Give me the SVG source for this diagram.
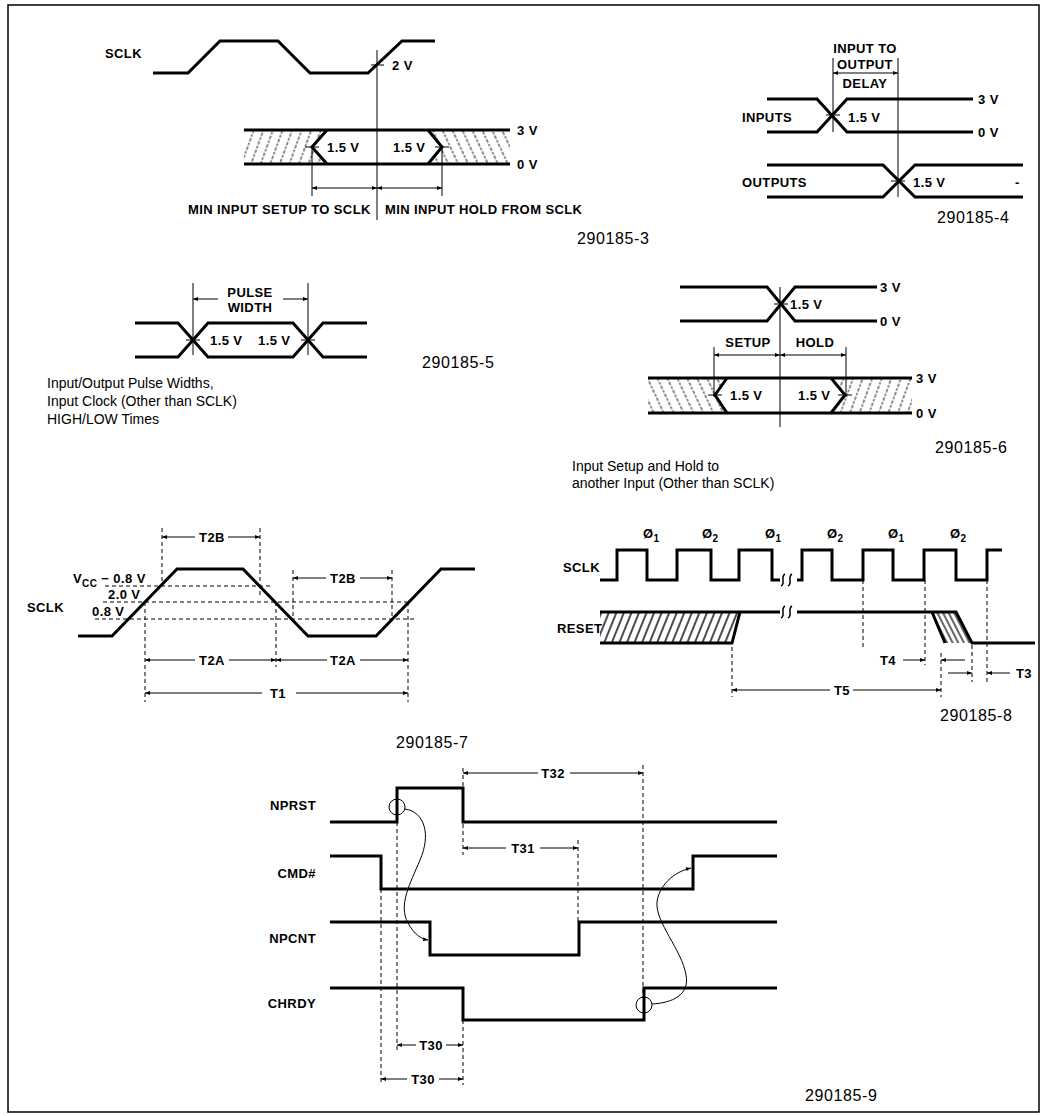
<svg xmlns="http://www.w3.org/2000/svg" width="1043" height="1116" viewBox="0 0 1043 1116">
<defs>
<marker id="ah" viewBox="0 0 10 10" refX="10" refY="5" markerWidth="8" markerHeight="5" markerUnits="userSpaceOnUse" orient="auto-start-reverse"><path d="M0,1 L10,5 L0,9 z" fill="#000"/></marker>
<pattern id="hA" width="9" height="9" patternUnits="userSpaceOnUse" patternTransform="rotate(20)"><line x1="4" y1="0" x2="4" y2="9" stroke="#000" stroke-width="0.9" stroke-dasharray="2.5 1.5"/></pattern>
<pattern id="hB" width="9" height="9" patternUnits="userSpaceOnUse" patternTransform="rotate(-25)"><line x1="4" y1="0" x2="4" y2="9" stroke="#000" stroke-width="0.9" stroke-dasharray="2.5 1.5"/></pattern>
<pattern id="hR" width="7" height="7" patternUnits="userSpaceOnUse" patternTransform="rotate(22)"><line x1="3" y1="0" x2="3" y2="7" stroke="#000" stroke-width="1.4"/></pattern>
<pattern id="hR2" width="5" height="5" patternUnits="userSpaceOnUse" patternTransform="rotate(-27)"><line x1="2" y1="0" x2="2" y2="5" stroke="#000" stroke-width="1.2"/></pattern>
</defs>
<style>
.w{fill:none;stroke:#000;stroke-width:3}
.t{fill:none;stroke:#000;stroke-width:1}
.k{fill:none;stroke:#000;stroke-width:1.5}
.d{fill:none;stroke:#000;stroke-width:1;stroke-dasharray:4 3}
.a{fill:none;stroke:#000;stroke-width:1;marker-end:url(#ah)}
.a2{fill:none;stroke:#000;stroke-width:1;marker-start:url(#ah);marker-end:url(#ah)}
text{font-family:"Liberation Sans",Arial,Helvetica,sans-serif;fill:#000}
.b{font-weight:bold;font-size:13px;letter-spacing:0.4px}
.n{font-size:16px;letter-spacing:0.6px}
.c{font-size:14px}
.m{text-anchor:middle}
.e{text-anchor:end}
</style>
<rect x="8" y="5" width="1031" height="1107" fill="#fff" stroke="#000" stroke-width="1.5"/>

<!-- Figure 290185-3 -->
<g id="fig3">
  <g id="fig3-sclk">
    <text class="b" x="105" y="58">SCLK</text>
    <polyline class="w" points="153,73 188,73 220,41 278,41 310,73 368,73 402,41 435,41"/>
    <line class="t" x1="371" y1="65" x2="384" y2="65"/>
    <text class="b" x="392" y="70">2 V</text>
  </g>
  <g id="fig3-input">
    <polygon points="244,130 327,130 312,147 327,164 244,164" fill="url(#hA)"/>
    <polygon points="428,130 510,130 510,164 428,164 442,147" fill="url(#hB)"/>
    <line class="w" x1="244" y1="130" x2="510" y2="130"/>
    <line class="w" x1="244" y1="164" x2="510" y2="164"/>
    <polyline class="w" points="327,130 312,147 327,164"/>
    <polyline class="w" points="428,130 442,147 428,164"/>
    <line class="t" x1="305" y1="147" x2="319" y2="147"/>
    <line class="t" x1="435" y1="147" x2="449" y2="147"/>
    <text class="b" x="327" y="152">1.5 V</text>
    <text class="b" x="393" y="152">1.5 V</text>
    <text class="b" x="517" y="135">3 V</text>
    <text class="b" x="517" y="169">0 V</text>
  </g>
  <text class="b" x="188" y="214">MIN INPUT SETUP TO SCLK</text>
  <text class="b" x="385" y="214">MIN INPUT HOLD FROM SCLK</text>
  <text class="n" x="577" y="244">290185-3</text>
</g>

<!-- Figure 290185-4 -->
<g id="fig4">
  <text class="b m" x="865" y="53">INPUT TO</text>
  <text class="b m" x="865" y="69">OUTPUT</text>
  <text class="b m" x="865" y="88">DELAY</text>
  <g id="fig4-inputs">
    <text class="b" x="742" y="122">INPUTS</text>
    <polyline class="w" points="767,99 817,99 847,132 973,132"/>
    <polyline class="w" points="767,132 817,132 847,99 973,99"/>
    <line class="t" x1="826" y1="115" x2="840" y2="115"/>
    <text class="b" x="848" y="122">1.5 V</text>
    <text class="b" x="978" y="104">3 V</text>
    <text class="b" x="978" y="137">0 V</text>
  </g>
  <g id="fig4-outputs">
    <text class="b" x="742" y="187">OUTPUTS</text>
    <polyline class="w" points="767,165 883,165 915,197 1023,197"/>
    <polyline class="w" points="767,197 883,197 915,165 1023,165"/>
    <line class="t" x1="891" y1="181" x2="905" y2="181"/>
    <text class="b" x="913" y="187">1.5 V</text>
    <text class="b" x="1015" y="187">-</text>
  </g>
  <text class="n" x="937" y="223">290185-4</text>
</g>

<!-- Figure 290185-5 -->
<g id="fig5">
  <text class="b m" x="250" y="297">PULSE</text>
  <text class="b m" x="250" y="312">WIDTH</text>
  <g id="fig5-pulse">
    <polyline class="w" points="135,323 178,323 208,357 293,357 323,323 367,323"/>
    <polyline class="w" points="135,357 178,357 208,323 293,323 323,357 367,357"/>
    <line class="t" x1="186" y1="340" x2="200" y2="340"/>
    <line class="t" x1="301" y1="340" x2="315" y2="340"/>
    <text class="b" x="210" y="345">1.5 V</text>
    <text class="b" x="258" y="345">1.5 V</text>
  </g>
  <text class="n" x="422" y="368">290185-5</text>
  <text class="c" x="47" y="388">Input/Output Pulse Widths,</text>
  <text class="c" x="47" y="406">Input Clock (Other than SCLK)</text>
  <text class="c" x="47" y="424">HIGH/LOW Times</text>
</g>

<!-- Figure 290185-6 -->
<g id="fig6">
  <g id="fig6-ref">
    <polyline class="w" points="680,287 767,287 795,321 877,321"/>
    <polyline class="w" points="680,321 767,321 795,287 877,287"/>
    <line class="t" x1="774" y1="304" x2="788" y2="304"/>
    <text class="b" x="790" y="309">1.5 V</text>
    <text class="b" x="880" y="292">3 V</text>
    <text class="b" x="880" y="326">0 V</text>
  </g>
  <text class="b m" x="748" y="347">SETUP</text>
  <text class="b m" x="815" y="347">HOLD</text>
  <g id="fig6-input">
    <polygon points="648,378 727,378 715,395 727,413 648,413" fill="url(#hB)"/>
    <polygon points="831,378 912,378 912,413 831,413 845,395" fill="url(#hA)"/>
    <line class="w" x1="648" y1="378" x2="912" y2="378"/>
    <line class="w" x1="648" y1="413" x2="912" y2="413"/>
    <polyline class="w" points="727,378 715,395 727,413"/>
    <polyline class="w" points="831,378 845,395 831,413"/>
    <line class="t" x1="708" y1="395" x2="722" y2="395"/>
    <line class="t" x1="838" y1="395" x2="852" y2="395"/>
    <text class="b" x="730" y="400">1.5 V</text>
    <text class="b" x="798" y="400">1.5 V</text>
    <text class="b" x="916" y="383">3 V</text>
    <text class="b" x="916" y="418">0 V</text>
  </g>
  <text class="n" x="935" y="453">290185-6</text>
  <text class="c" x="572" y="471">Input Setup and Hold to</text>
  <text class="c" x="572" y="488">another Input (Other than SCLK)</text>
</g>

<!-- Figure 290185-7 -->
<g id="fig7">
  <g id="fig7-sclk">
    <text class="b" x="27" y="612">SCLK</text>
    <polyline class="w" points="78,636 112,636 177,569 243,569 308,636 376,636 441,569 475,569"/>
  </g>
  <g id="fig7-levels">
    <line class="d" x1="105" y1="586" x2="270" y2="586"/>
    <line class="d" x1="103" y1="602" x2="407" y2="602"/>
    <line class="d" x1="95" y1="619" x2="417" y2="619"/>
    <text class="b" x="73" y="583">V<tspan font-size="10" dy="4">CC</tspan><tspan dy="-4"> − 0.8 V</tspan></text>
    <text class="b" x="108" y="599">2.0 V</text>
    <text class="b" x="92" y="616">0.8 V</text>
  </g>
  <text class="b m" x="212" y="542">T2B</text>
  <text class="b m" x="343" y="583">T2B</text>
  <text class="b m" x="212" y="665">T2A</text>
  <text class="b m" x="343" y="665">T2A</text>
  <text class="b m" x="278" y="698">T1</text>
  <text class="n" x="396" y="748">290185-7</text>
</g>

<!-- Figure 290185-8 -->
<g id="fig8">
  <g id="fig8-sclk">
    <text class="b" x="563" y="572">SCLK</text>
    <polyline class="w" points="600,580 617,580 617,550 647,550 647,580 677,580 677,550 711,550 711,580 739,580 739,550 772,550 772,580 780,580"/>
    <polyline class="w" points="797,580 802,580 802,550 832,550 832,580 863,580 863,550 893,550 893,580 924,580 924,550 956,550 956,580 987,580 987,550 1002,550"/>
    <path class="k" d="M781,586 C786,584 780,577 785,574 M788,586 C793,584 787,577 792,574"/>
    <text class="b" x="643" y="538">Ø<tspan font-size="10" dy="4">1</tspan></text>
    <text class="b" x="702" y="538">Ø<tspan font-size="10" dy="4">2</tspan></text>
    <text class="b" x="765" y="538">Ø<tspan font-size="10" dy="4">1</tspan></text>
    <text class="b" x="827" y="538">Ø<tspan font-size="10" dy="4">2</tspan></text>
    <text class="b" x="888" y="538">Ø<tspan font-size="10" dy="4">1</tspan></text>
    <text class="b" x="950" y="538">Ø<tspan font-size="10" dy="4">2</tspan></text>
  </g>
  <g id="fig8-reset">
    <text class="b" x="557" y="633">RESET</text>
    <polygon points="600,612 740,612 732,643 600,643" fill="url(#hR)"/>
    <polygon points="932,612 956,612 972,643 945,643" fill="url(#hR2)"/>
    <polyline class="w" points="600,612 780,612"/>
    <polyline class="w" points="600,643 732,643 740,612"/>
    <polyline class="w" points="797,612 956,612 972,643 1035,643"/>
    <line class="w" x1="932" y1="612" x2="945" y2="643"/>
    <path class="k" d="M781,618 C786,616 780,609 785,606 M788,618 C793,616 787,609 792,606"/>
  </g>
  <text class="b" x="880" y="665">T4</text>
  <text class="b" x="1016" y="678">T3</text>
  <text class="b m" x="842" y="695">T5</text>
  <text class="n" x="940" y="721">290185-8</text>
</g>

<!-- Figure 290185-9 -->
<g id="fig9">
  <g id="fig9-nprst">
    <text class="b e" x="316" y="810">NPRST</text>
    <polyline class="w" points="330,822 397,822 397,788 463,788 463,822 777,822"/>
    <circle class="t" cx="397" cy="807" r="8"/>
  </g>
  <g id="fig9-cmd">
    <text class="b e" x="316" y="878">CMD#</text>
    <polyline class="w" points="330,856 381,856 381,889 693,889 693,856 777,856"/>
  </g>
  <g id="fig9-npcnt">
    <text class="b e" x="316" y="943">NPCNT</text>
    <polyline class="w" points="330,922 430,922 430,955 579,955 579,922 777,922"/>
  </g>
  <g id="fig9-chrdy">
    <text class="b e" x="316" y="1008">CHRDY</text>
    <polyline class="w" points="330,988 463,988 463,1020 644,1020 644,988 777,988"/>
    <circle class="t" cx="644" cy="1005" r="8"/>
  </g>
  <text class="b m" x="553" y="778">T32</text>
  <text class="b m" x="523" y="853">T31</text>
  <text class="b m" x="431" y="1050">T30</text>
  <text class="b m" x="423" y="1084">T30</text>
  <text class="n" x="805" y="1101">290185-9</text>
</g>

<g id="connectors">
  <!-- fig3 -->
  <line class="t" x1="377" y1="50" x2="377" y2="220"/>
  <line class="t" x1="312" y1="147" x2="312" y2="196"/>
  <line class="t" x1="442" y1="147" x2="442" y2="196"/>
  <line class="a2" x1="312" y1="188" x2="377" y2="188"/>
  <line class="a2" x1="377" y1="188" x2="442" y2="188"/>
  <!-- fig4 -->
  <line class="t" x1="833" y1="58" x2="833" y2="132"/>
  <line class="t" x1="898" y1="58" x2="898" y2="197"/>
  <line class="a2" x1="833" y1="73" x2="898" y2="73"/>
  <!-- fig5 -->
  <line class="t" x1="193" y1="283" x2="193" y2="355"/>
  <line class="t" x1="308" y1="283" x2="308" y2="355"/>
  <line class="a" x1="218" y1="299" x2="193" y2="299"/>
  <line class="a" x1="283" y1="299" x2="308" y2="299"/>
  <!-- fig6 -->
  <line class="t" x1="780" y1="287" x2="780" y2="427"/>
  <line class="t" x1="714" y1="347" x2="714" y2="397"/>
  <line class="t" x1="846" y1="347" x2="846" y2="397"/>
  <line class="a2" x1="714" y1="355" x2="780" y2="355"/>
  <line class="a2" x1="780" y1="355" x2="846" y2="355"/>
  <!-- fig7 -->
  <line class="d" x1="162" y1="528" x2="162" y2="586"/>
  <line class="d" x1="260" y1="528" x2="260" y2="597"/>
  <line class="d" x1="293" y1="570" x2="293" y2="619"/>
  <line class="d" x1="392" y1="570" x2="392" y2="619"/>
  <line class="d" x1="145" y1="602" x2="145" y2="702"/>
  <line class="d" x1="276" y1="602" x2="276" y2="667"/>
  <line class="d" x1="408" y1="602" x2="408" y2="702"/>
  <line class="a" x1="195" y1="537" x2="162" y2="537"/>
  <line class="a" x1="228" y1="537" x2="260" y2="537"/>
  <line class="a" x1="326" y1="578" x2="293" y2="578"/>
  <line class="a" x1="360" y1="578" x2="392" y2="578"/>
  <line class="a" x1="195" y1="660" x2="145" y2="660"/>
  <line class="a" x1="229" y1="660" x2="276" y2="660"/>
  <line class="a" x1="327" y1="660" x2="276" y2="660"/>
  <line class="a" x1="360" y1="660" x2="408" y2="660"/>
  <line class="a" x1="262" y1="693" x2="145" y2="693"/>
  <line class="a" x1="296" y1="693" x2="408" y2="693"/>
  <!-- fig8 -->
  <line class="d" x1="732" y1="647" x2="732" y2="697"/>
  <line class="d" x1="863" y1="580" x2="863" y2="650"/>
  <line class="d" x1="925" y1="580" x2="925" y2="665"/>
  <line class="d" x1="941" y1="653" x2="941" y2="697"/>
  <line class="d" x1="972" y1="645" x2="972" y2="682"/>
  <line class="d" x1="987" y1="580" x2="987" y2="682"/>
  <line class="a" x1="903" y1="660" x2="925" y2="660"/>
  <line class="a" x1="965" y1="660" x2="941" y2="660"/>
  <line class="a" x1="948" y1="673" x2="972" y2="673"/>
  <line class="a" x1="1010" y1="673" x2="987" y2="673"/>
  <line class="a" x1="830" y1="690" x2="732" y2="690"/>
  <line class="a" x1="853" y1="690" x2="941" y2="690"/>
  <!-- fig9 -->
  <line class="d" x1="463" y1="768" x2="463" y2="855"/>
  <line class="d" x1="643" y1="765" x2="643" y2="997"/>
  <line class="d" x1="578" y1="840" x2="578" y2="922"/>
  <line class="d" x1="397" y1="822" x2="397" y2="1050"/>
  <line class="d" x1="381" y1="889" x2="381" y2="1085"/>
  <line class="d" x1="463" y1="1020" x2="463" y2="1085"/>
  <line class="a" x1="538" y1="773" x2="463" y2="773"/>
  <line class="a" x1="570" y1="773" x2="643" y2="773"/>
  <line class="a" x1="506" y1="848" x2="463" y2="848"/>
  <line class="a" x1="540" y1="848" x2="578" y2="848"/>
  <line class="a" x1="416" y1="1045" x2="397" y2="1045"/>
  <line class="a" x1="446" y1="1045" x2="463" y2="1045"/>
  <line class="a" x1="407" y1="1079" x2="381" y2="1079"/>
  <line class="a" x1="439" y1="1079" x2="463" y2="1079"/>
  <path class="a" d="M405,809 C425,812 431,835 420,860 C410,884 398,905 408,923 C414,934 421,939 428,940"/>
  <path class="a" d="M652,1004 C672,1003 690,995 686,975 C682,950 655,922 657,902 C659,886 673,872 691,868"/>
</g>
</svg>
